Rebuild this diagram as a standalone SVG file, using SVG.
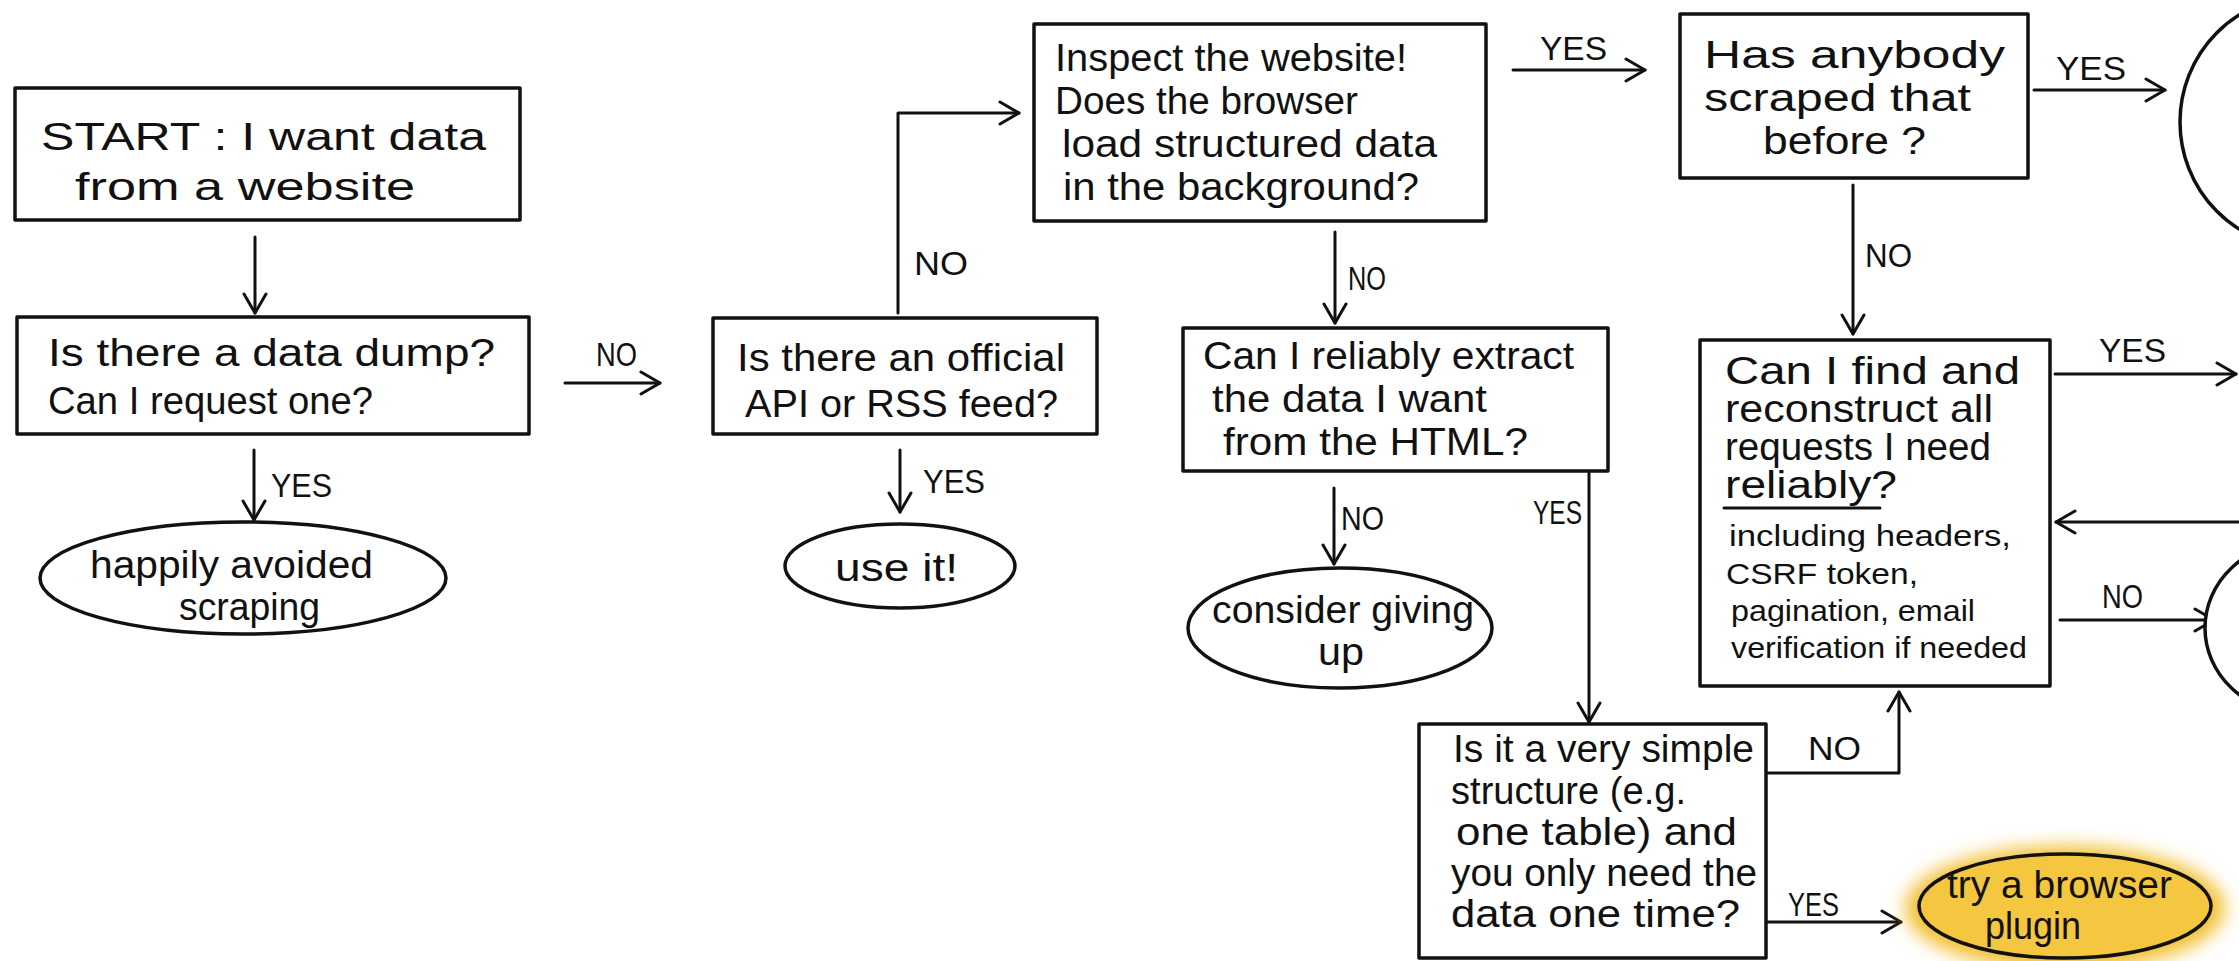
<svg xmlns="http://www.w3.org/2000/svg" width="2239" height="961" viewBox="0 0 2239 961">
<style>
.box{fill:#fff;stroke:#111;stroke-width:3.5;stroke-linejoin:round}
.term{fill:#fff;stroke:#111;stroke-width:3.5}
.edge{fill:none;stroke:#111;stroke-width:3;stroke-linecap:round;stroke-linejoin:round}
text{font-family:"Liberation Sans",Arial,sans-serif;fill:#111}
.t{font-size:38px}
.s{font-size:29px}
.lab{font-size:34px}
</style>
<defs>
<marker id="ah" viewBox="0 0 26 26" refX="23" refY="13" markerWidth="26" markerHeight="26" orient="auto" markerUnits="userSpaceOnUse">
<path d="M4,2 L23,13 L4,24" fill="none" stroke="#111" stroke-width="3" stroke-linecap="round" stroke-linejoin="round"/>
</marker>
<filter id="glow" x="-30%" y="-50%" width="160%" height="200%">
<feGaussianBlur stdDeviation="9"/>
</filter>
</defs>
<rect width="2239" height="961" fill="#fff"/>

<g id="connectors">
<path class="edge" d="M255,237 L255,313" marker-end="url(#ah)"/>
<path class="edge" d="M565,383 L660,383" marker-end="url(#ah)"/>
<text class="lab" x="596" y="366" font-size="30" textLength="41" lengthAdjust="spacingAndGlyphs">NO</text>
<path class="edge" d="M254,450 L254,520" marker-end="url(#ah)"/>
<text class="lab" x="271" y="497" font-size="30" textLength="61" lengthAdjust="spacingAndGlyphs">YES</text>
<path class="edge" d="M898,313 L898,113 L1019,113" marker-end="url(#ah)"/>
<text class="lab" x="914" y="275" font-size="39" textLength="54" lengthAdjust="spacingAndGlyphs">NO</text>
<path class="edge" d="M900,450 L900,512" marker-end="url(#ah)"/>
<text class="lab" x="923" y="493" font-size="34" textLength="62" lengthAdjust="spacingAndGlyphs">YES</text>
<path class="edge" d="M1513,70 L1645,70" marker-end="url(#ah)"/>
<text class="lab" x="1540" y="60" font-size="38" textLength="67" lengthAdjust="spacingAndGlyphs">YES</text>
<path class="edge" d="M1335,232 L1335,323" marker-end="url(#ah)"/>
<text class="lab" x="1348" y="290" font-size="40" textLength="38" lengthAdjust="spacingAndGlyphs">NO</text>
<path class="edge" d="M2034,90 L2165,90" marker-end="url(#ah)"/>
<text class="lab" x="2056" y="80" font-size="38" textLength="70" lengthAdjust="spacingAndGlyphs">YES</text>
<path class="edge" d="M1853,185 L1853,334" marker-end="url(#ah)"/>
<text class="lab" x="1865" y="267" font-size="40" textLength="47" lengthAdjust="spacingAndGlyphs">NO</text>
<path class="edge" d="M2055,374 L2236,374" marker-end="url(#ah)"/>
<text class="lab" x="2099" y="362" font-size="36" textLength="67" lengthAdjust="spacingAndGlyphs">YES</text>
<path class="edge" d="M2239,522 L2056,522" marker-end="url(#ah)"/>
<path class="edge" d="M2060,620 L2214,620" marker-end="url(#ah)"/>
<text class="lab" x="2102" y="608" font-size="30" textLength="41" lengthAdjust="spacingAndGlyphs">NO</text>
<path class="edge" d="M1334,488 L1334,564" marker-end="url(#ah)"/>
<text class="lab" x="1341" y="530" font-size="30" textLength="43" lengthAdjust="spacingAndGlyphs">NO</text>
<path class="edge" d="M1589,473 L1589,722" marker-end="url(#ah)"/>
<text class="lab" x="1533" y="524" font-size="34" textLength="49" lengthAdjust="spacingAndGlyphs">YES</text>
<path class="edge" d="M1766,773 L1899,773 L1899,692" marker-end="url(#ah)"/>
<text class="lab" x="1808" y="760" font-size="30" textLength="53" lengthAdjust="spacingAndGlyphs">NO</text>
<path class="edge" d="M1767,922 L1901,922" marker-end="url(#ah)"/>
<text class="lab" x="1788" y="916" font-size="24" textLength="51" lengthAdjust="spacingAndGlyphs">YES</text>
</g>

<g id="start">
<rect class="box" x="15" y="88" width="505" height="132"/>
<text class="t" x="41" y="150" font-size="44" textLength="445" lengthAdjust="spacingAndGlyphs">START : I want data</text>
<text class="t" x="75" y="200" font-size="44" textLength="340" lengthAdjust="spacingAndGlyphs">from a website</text>
</g>

<g id="dump">
<rect class="box" x="17" y="317" width="512" height="117"/>
<text class="t" x="48" y="366" font-size="42" textLength="447" lengthAdjust="spacingAndGlyphs">Is there  a data dump?</text>
<text class="t" x="48" y="414" font-size="42" textLength="325" lengthAdjust="spacingAndGlyphs">Can I request one?</text>
</g>

<g id="happily">
<ellipse class="term" cx="243" cy="578" rx="203" ry="56"/>
<text class="t" x="90" y="578" font-size="37" textLength="283" lengthAdjust="spacingAndGlyphs">happily avoided</text>
<text class="t" x="179" y="620" font-size="37" textLength="141" lengthAdjust="spacingAndGlyphs">scraping</text>
</g>

<g id="official">
<rect class="box" x="713" y="318" width="384" height="116"/>
<text class="t" x="737" y="371" font-size="40" textLength="328" lengthAdjust="spacingAndGlyphs">Is there an official</text>
<text class="t" x="745" y="417" font-size="40" textLength="313" lengthAdjust="spacingAndGlyphs">API or RSS feed?</text>
</g>

<g id="useit">
<ellipse class="term" cx="900" cy="566" rx="115" ry="42"/>
<text class="t" x="835" y="581" font-size="42" textLength="123" lengthAdjust="spacingAndGlyphs">use it!</text>
</g>

<g id="inspect">
<rect class="box" x="1034" y="24" width="452" height="197"/>
<text class="t" x="1055" y="71" textLength="352" lengthAdjust="spacingAndGlyphs">Inspect the website!</text>
<text class="t" x="1055" y="114" textLength="303" lengthAdjust="spacingAndGlyphs">Does the browser</text>
<text class="t" x="1062" y="157" textLength="375" lengthAdjust="spacingAndGlyphs">load structured data</text>
<text class="t" x="1063" y="200" textLength="356" lengthAdjust="spacingAndGlyphs">in the background?</text>
</g>

<g id="anybody">
<rect class="box" x="1680" y="14" width="348" height="164"/>
<text class="t" x="1704" y="68" textLength="301" lengthAdjust="spacingAndGlyphs">Has anybody</text>
<text class="t" x="1704" y="111" textLength="267" lengthAdjust="spacingAndGlyphs">scraped that</text>
<text class="t" x="1763" y="154" textLength="163" lengthAdjust="spacingAndGlyphs">before ?</text>
</g>

<g id="circle-top">
<ellipse class="term" cx="2305" cy="122" rx="125" ry="126"/>
</g>

<g id="reconstruct">
<rect class="box" x="1700" y="340" width="350" height="346"/>
<text class="t" x="1725" y="384" font-size="31" textLength="295" lengthAdjust="spacingAndGlyphs">Can I find and</text>
<text class="t" x="1725" y="422" font-size="31" textLength="268" lengthAdjust="spacingAndGlyphs">reconstruct all</text>
<text class="t" x="1725" y="460" font-size="31" textLength="266" lengthAdjust="spacingAndGlyphs">requests I need</text>
<text class="t" x="1725" y="498" font-size="31" textLength="172" lengthAdjust="spacingAndGlyphs">reliably?</text>
<path class="edge" d="M1724,508 L1880,508" stroke-width="2.5"/>
<text class="s" x="1729" y="546" textLength="282" lengthAdjust="spacingAndGlyphs">including headers,</text>
<text class="s" x="1726" y="584" textLength="192" lengthAdjust="spacingAndGlyphs">CSRF token,</text>
<text class="s" x="1731" y="621" textLength="244" lengthAdjust="spacingAndGlyphs">pagination, email</text>
<text class="s" x="1731" y="658" textLength="296" lengthAdjust="spacingAndGlyphs">verification if needed</text>
</g>

<g id="circle-bottom">
<ellipse class="term" cx="2298" cy="628" rx="93" ry="86"/>
</g>

<g id="reliably">
<rect class="box" x="1183" y="328" width="425" height="143"/>
<text class="t" x="1203" y="369" font-size="37" textLength="371" lengthAdjust="spacingAndGlyphs">Can I reliably extract</text>
<text class="t" x="1212" y="412" font-size="37" textLength="275" lengthAdjust="spacingAndGlyphs">the data I want</text>
<text class="t" x="1223" y="455" font-size="37" textLength="305" lengthAdjust="spacingAndGlyphs">from the HTML?</text>
</g>

<g id="giveup">
<ellipse class="term" cx="1340" cy="628" rx="152" ry="60"/>
<text class="t" x="1212" y="623" font-size="37" textLength="262" lengthAdjust="spacingAndGlyphs">consider giving</text>
<text class="t" x="1318" y="665" font-size="37" textLength="46" lengthAdjust="spacingAndGlyphs">up</text>
</g>

<g id="simple">
<rect class="box" x="1419" y="724" width="347" height="234"/>
<text class="t" x="1453" y="762" font-size="35" textLength="301" lengthAdjust="spacingAndGlyphs">Is it a very simple</text>
<text class="t" x="1451" y="804" font-size="35" textLength="235" lengthAdjust="spacingAndGlyphs">structure (e.g.</text>
<text class="t" x="1456" y="845" font-size="35" textLength="281" lengthAdjust="spacingAndGlyphs">one table) and</text>
<text class="t" x="1451" y="886" font-size="35" textLength="306" lengthAdjust="spacingAndGlyphs">you only need the</text>
<text class="t" x="1451" y="927" font-size="35" textLength="289" lengthAdjust="spacingAndGlyphs">data one time?</text>
</g>

<g id="plugin">
<ellipse cx="2065" cy="908" rx="160" ry="62" fill="#f2bf2e" filter="url(#glow)"/>
<ellipse cx="2065" cy="906" rx="146" ry="52" fill="#f5c640" stroke="#111" stroke-width="3.5"/>
<text class="t" x="1947" y="898" font-size="35" textLength="225" lengthAdjust="spacingAndGlyphs">try a browser</text>
<text class="t" x="1985" y="939" font-size="35" textLength="96" lengthAdjust="spacingAndGlyphs">plugin</text>
</g>
</svg>
